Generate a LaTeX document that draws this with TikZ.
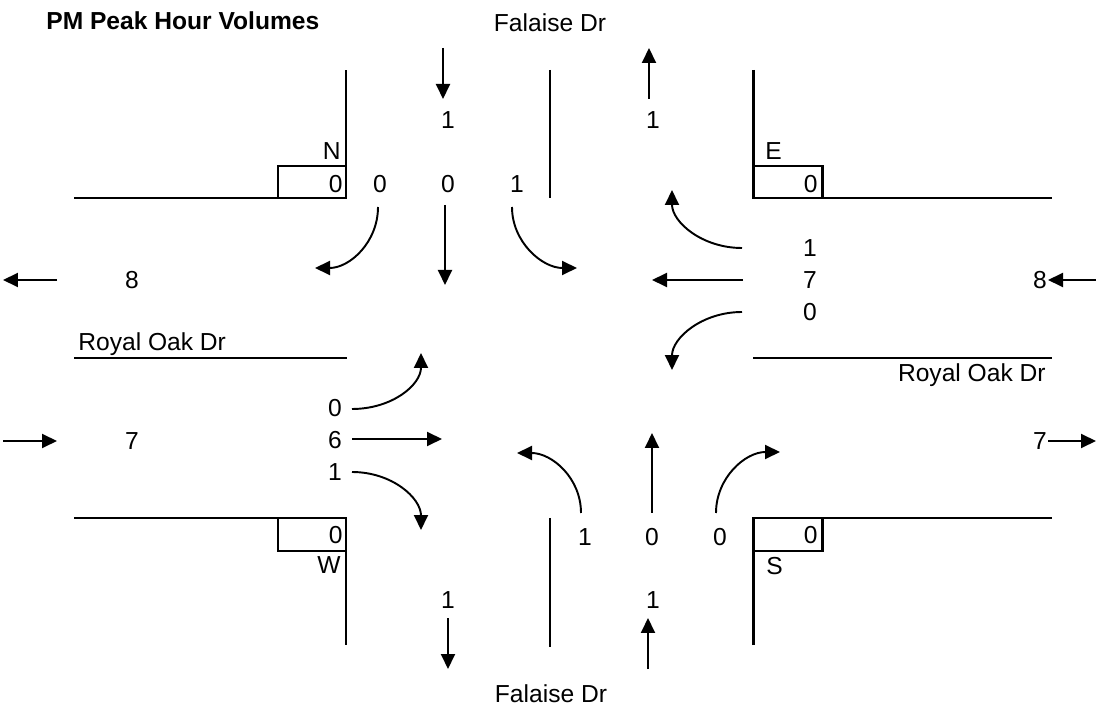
\documentclass[tikz,border=0pt]{standalone}
\usepackage{fontspec}
\setmainfont{Liberation Sans}
\usetikzlibrary{arrows.meta}

\begin{document}
\begin{tikzpicture}[x=0.02cm, y=-0.02cm,
    every node/.style={font=\fontsize{14}{16}\selectfont, inner sep=0pt},
    curb/.style={line width=1.7pt},
    median/.style={line width=0.7pt},
    move/.style={line width=1.1pt, -{Triangle[length=0.3cm, width=0.28cm]}}]
    \useasboundingbox (0,0) rectangle (1096,709);

    \node[anchor=base west, font=\fontsize{14}{16}\selectfont\bfseries] (title) at (46,30) {PM Peak Hour Volumes};
    \node[anchor=base] (falN) at (550,32) {Falaise Dr};
    \node[anchor=base] (falS) at (551,702) {Falaise Dr};
    \node[anchor=base west] (royW) at (78,351) {Royal Oak Dr};
    \node[anchor=base east] (royE) at (1046,382) {Royal Oak Dr};

    \draw[curb] (74,198) -- (346,198) -- (346,70);
    \draw[curb] (278,166) rectangle (346,198);
    \draw[curb] (753,70) -- (753,198) -- (1052,198);
    \draw[curb] (753,166) rectangle (822,198);
    \draw[curb] (74,518) -- (346,518) -- (346,645);
    \draw[curb] (278,518) rectangle (346,551);
    \draw[curb] (753,645) -- (753,518) -- (1052,518);
    \draw[curb] (753,518) rectangle (822,551);
    \draw[median] (550,70) -- (550,198);
    \draw[median] (550,518) -- (550,647);
    \draw[median] (74,358) -- (347,358);
    \draw[median] (753,358) -- (1052,358);

    \node[anchor=east] (N) at (341,151) {N};
    \node[anchor=west] (E) at (765,151) {E};
    \node[anchor=east] (W) at (341,565) {W};
    \node[anchor=west] (S) at (766,566) {S};
    \node[anchor=east] (nBox) at (343,184) {0};
    \node[anchor=east] (eBox) at (818,184) {0};
    \node[anchor=east] (wBox) at (343,535) {0};
    \node[anchor=east] (sBox) at (818,535) {0};

    \node (nIn) at (448,120) {1};
    \node (nOut) at (653,120) {1};
    \node (nR) at (380,184) {0};
    \node (nT) at (448,184) {0};
    \node (nL) at (517,184) {1};
    \node (eL) at (810,248) {1};
    \node (eT) at (810,280) {7};
    \node (eR) at (810,312) {0};
    \node (eIn) at (1040,280) {8};
    \node (eOut) at (1040,441) {7};
    \node (wOut) at (132,280) {8};
    \node (wIn) at (132,441) {7};
    \node (wL) at (335,408) {0};
    \node (wT) at (335,440) {6};
    \node (wR) at (335,472) {1};
    \node (sL) at (585,537) {1};
    \node (sT) at (652,537) {0};
    \node (sR) at (720,537) {0};
    \node (sOut) at (448,600) {1};
    \node (sIn) at (653,600) {1};

    \coordinate (nIn1) at (443,48);
    \coordinate (nIn2) at (443,99);
    \coordinate (nOut1) at (649,99);
    \coordinate (nOut2) at (649,48);
    \coordinate (nR1) at (378,207);
    \coordinate (nR2) at (315,268);
    \coordinate (nT1) at (445,205);
    \coordinate (nT2) at (445,285);
    \coordinate (nL1) at (512,207);
    \coordinate (nL2) at (577,268);
    \coordinate (eL1) at (742,248);
    \coordinate (eL2) at (672,190);
    \coordinate (eT1) at (743,280);
    \coordinate (eT2) at (652,280);
    \coordinate (eR1) at (742,312);
    \coordinate (eR2) at (672,370);
    \coordinate (eIn1) at (1096,280);
    \coordinate (eIn2) at (1048,280);
    \coordinate (eOut1) at (1048,441);
    \coordinate (eOut2) at (1096,441);
    \coordinate (wOut1) at (57,280);
    \coordinate (wOut2) at (3,280);
    \coordinate (wIn1) at (3,441);
    \coordinate (wIn2) at (57,441);
    \coordinate (wL1) at (352,409);
    \coordinate (wL2) at (421,353);
    \coordinate (wT1) at (352,439);
    \coordinate (wT2) at (442,439);
    \coordinate (wR1) at (352,472);
    \coordinate (wR2) at (421,530);
    \coordinate (sL1) at (581,513);
    \coordinate (sL2) at (517,453);
    \coordinate (sT1) at (652,513);
    \coordinate (sT2) at (652,433);
    \coordinate (sR1) at (716,513);
    \coordinate (sR2) at (780,452);
    \coordinate (sOut1) at (448,618);
    \coordinate (sOut2) at (448,669);
    \coordinate (sIn1) at (648,669);
    \coordinate (sIn2) at (648,618);

    \draw[move] (nIn1) -- (nIn2);
    \draw[move] (nOut1) -- (nOut2);
    \draw[move] (nR1) .. controls +(0,35) and +(35,0) .. (nR2);
    \draw[move] (nT1) -- (nT2);
    \draw[move] (nL1) .. controls +(0,35) and +(-35,0) .. (nL2);
    \draw[move] (eL1) .. controls +(-40,0) and +(0,32) .. (eL2);
    \draw[move] (eT1) -- (eT2);
    \draw[move] (eR1) .. controls +(-40,0) and +(0,-32) .. (eR2);
    \draw[move] (eIn1) -- (eIn2);
    \draw[move] (eOut1) -- (eOut2);
    \draw[move] (wOut1) -- (wOut2);
    \draw[move] (wIn1) -- (wIn2);
    \draw[move] (wL1) .. controls +(40,0) and +(0,32) .. (wL2);
    \draw[move] (wT1) -- (wT2);
    \draw[move] (wR1) .. controls +(40,0) and +(0,-32) .. (wR2);
    \draw[move] (sL1) .. controls +(0,-35) and +(35,0) .. (sL2);
    \draw[move] (sT1) -- (sT2);
    \draw[move] (sR1) .. controls +(0,-35) and +(-35,0) .. (sR2);
    \draw[move] (sOut1) -- (sOut2);
    \draw[move] (sIn1) -- (sIn2);
\end{tikzpicture}
\end{document}
